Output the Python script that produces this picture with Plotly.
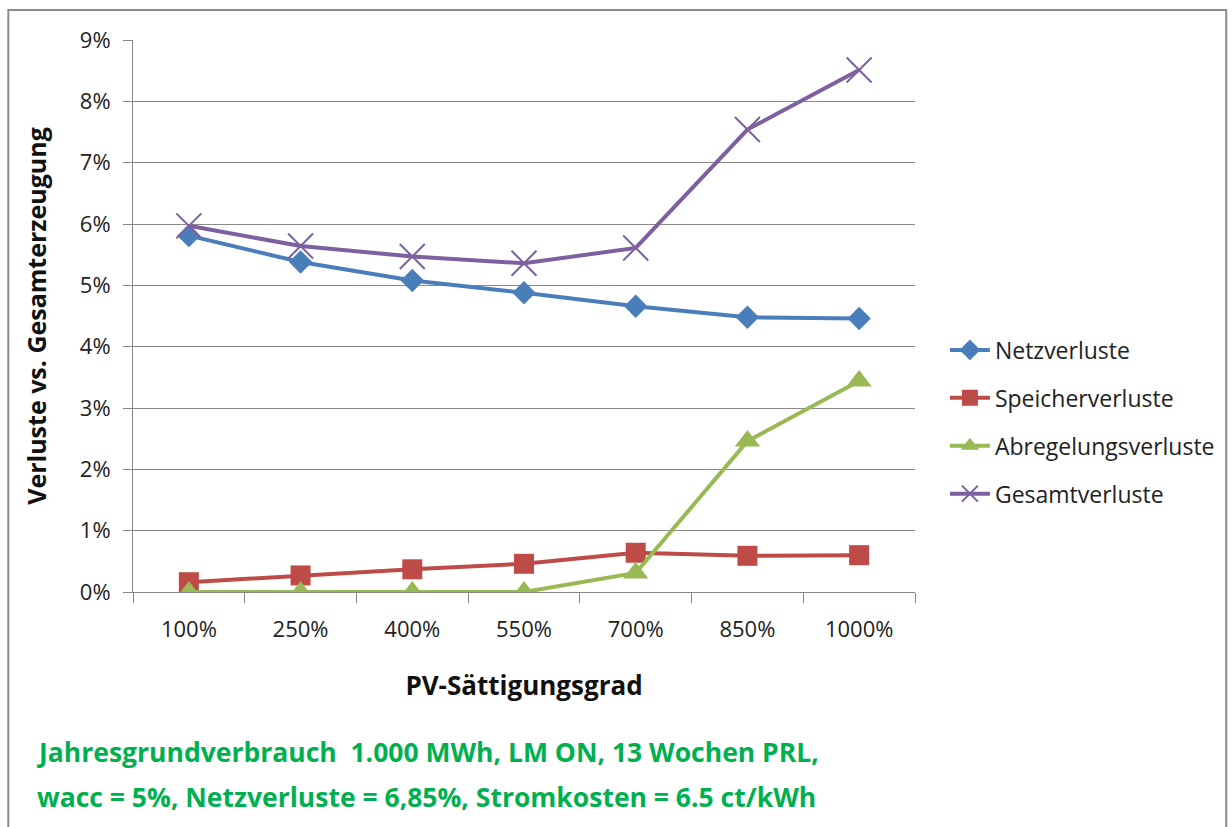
import plotly.graph_objects as go

categories = ["100%", "250%", "400%", "550%", "700%", "850%", "1000%"]
netzverluste = [5.81, 5.38, 5.08, 4.88, 4.66, 4.48, 4.46]
speicherverluste = [0.16, 0.27, 0.37, 0.46, 0.64, 0.59, 0.60]
abregelungsverluste = [0.0, 0.0, 0.0, 0.0, 0.31, 2.46, 3.44]
gesamtverluste = [5.97, 5.64, 5.47, 5.36, 5.61, 7.54, 8.51]
y_ticks = [0, 1, 2, 3, 4, 5, 6, 7, 8, 9]
y_tick_labels = ["0%", "1%", "2%", "3%", "4%", "5%", "6%", "7%", "8%", "9%"]

W, H = 1232, 827
L, R, T, B = 133, 917, 40, 592  # plot-area pixel edges


def px(x):
    return (x - L) / (R - L)


def py(y):
    return (B - y) / (B - T)


FONT = "Open Sans"
fig = go.Figure()

series = [
    ("Netzverluste", netzverluste, "#4A7EBB", "diamond", 18, 0),
    ("Speicherverluste", speicherverluste, "#BE4B48", "square", 20, 0),
    ("Abregelungsverluste", abregelungsverluste, "#98B954", "triangle-up", 22, 0),
    ("Gesamtverluste", gesamtverluste, "#7D60A0", "x-thin", 25, 2),
]
for name, vals, col, sym, size, lw in series:
    fig.add_trace(go.Scatter(
        x=categories, y=vals, name=name, mode="lines+markers",
        legendgroup=name,
        line=dict(color=col, width=4),
        marker=dict(symbol=sym, size=size, color=col,
                    line=dict(color=col, width=lw)),
    ))

fig.update_layout(
    width=W, height=H,
    margin=dict(l=L, r=W - R, t=T, b=H - B),
    paper_bgcolor="white", plot_bgcolor="white",
    font=dict(family=FONT, size=22, color="#222222"),
    showlegend=True,
    legend=dict(x=px(947), y=py(422), xanchor="left", yanchor="middle",
                font=dict(family=FONT, size=23, color="#222222"),
                tracegroupgap=15, itemwidth=40, bgcolor="rgba(0,0,0,0)"),
    xaxis=dict(
        type="category", range=[-0.5, 6.5],
        showline=True, linecolor="#868686", linewidth=1,
        ticks="outside", ticklen=10, tickcolor="#868686", tickson="boundaries",
        showgrid=False, zeroline=False, ticklabelstandoff=18,
        tickfont=dict(family=FONT, size=22, color="#222222"),
        title=dict(text="<b>PV-Sättigungsgrad</b>", standoff=34,
                   font=dict(family=FONT, size=26, color="#111111")),
    ),
    yaxis=dict(
        range=[0, 9], tickvals=y_ticks, ticktext=y_tick_labels,
        showline=True, linecolor="#868686", linewidth=1,
        ticks="outside", ticklen=9, tickcolor="#868686",
        showgrid=True, gridcolor="#8a8a8a", gridwidth=1, zeroline=False,
        ticklabelstandoff=8,
        tickfont=dict(family=FONT, size=22, color="#222222"),
        title=dict(text="<b>Verluste vs. Gesamterzeugung</b>", standoff=26,
                   font=dict(family=FONT, size=25, color="#111111")),
    ),
)

# outer chart border
fig.add_shape(type="rect", xref="paper", yref="paper",
              x0=px(8), x1=px(1229), y0=py(840), y1=py(10),
              line=dict(color="#8c8c8c", width=2), fillcolor="rgba(0,0,0,0)",
              layer="below")

footer = ["Jahresgrundverbrauch  1.000 MWh, LM ON, 13 Wochen PRL,",
          "wacc = 5%, Netzverluste = 6,85%, Stromkosten = 6.5 ct/kWh"]
for txt, yc in zip(footer, [752, 797]):
    fig.add_annotation(xref="paper", yref="paper", x=px(35), y=py(yc),
                       xanchor="left", yanchor="middle", showarrow=False,
                       text=f"<b>{txt}</b>",
                       font=dict(family=FONT, size=26.5, color="#00B050"))

fig.write_html("out.html")
